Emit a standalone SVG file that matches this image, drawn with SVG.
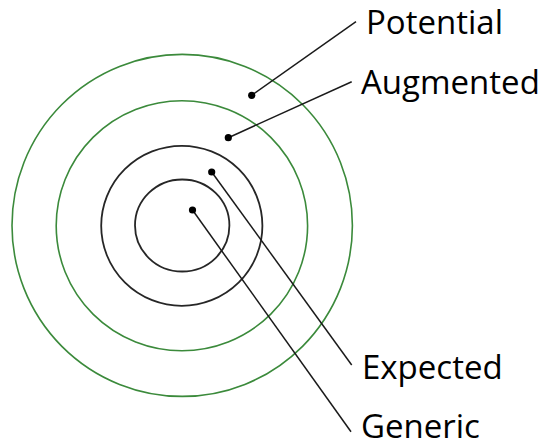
<svg xmlns="http://www.w3.org/2000/svg" width="543" height="447" viewBox="0 0 543 447">
  <style>
    .ring-g { fill: none; stroke: #3b8a3b; stroke-width: 1.6; }
    .ring-k { fill: none; stroke: #262626; stroke-width: 1.8; }
    .lead { stroke: #1a1a1a; stroke-width: 1.5; fill: none; }
    .dot { fill: #000; }
    .lbl { font-family: "Open Sans", "Liberation Sans", sans-serif; font-size: 33px; fill: #000; }
  </style>
  <rect width="543" height="447" fill="#fff"/>
  <g id="rings">
    <ellipse id="ring-potential" class="ring-g" cx="182.2" cy="225.4" rx="170.2" ry="171"/>
    <ellipse id="ring-augmented" class="ring-g" cx="181.9" cy="225.7" rx="125.7" ry="125"/>
    <ellipse id="ring-expected" class="ring-k" cx="181.8" cy="225.8" rx="80.6" ry="80"/>
    <ellipse id="ring-generic" class="ring-k" cx="182.2" cy="225.5" rx="47.2" ry="46"/>
  </g>
  <g id="connectors">
    <line class="lead" x1="251.7" y1="95.3" x2="356" y2="21.7"/>
    <line class="lead" x1="228.3" y1="137.7" x2="351.7" y2="81.7"/>
    <line class="lead" x1="211.7" y1="172" x2="351.7" y2="365"/>
    <line class="lead" x1="192.5" y1="210" x2="351" y2="431.7"/>
  </g>
  <g id="potential">
    <circle class="dot" cx="251.7" cy="95.3" r="3.6"/>
    <text class="lbl" x="366" y="34.3">Potential</text>
  </g>
  <g id="augmented">
    <circle class="dot" cx="228.3" cy="137.7" r="3.6"/>
    <text class="lbl" x="361" y="94.3">Augmented</text>
  </g>
  <g id="expected">
    <circle class="dot" cx="211.7" cy="172" r="3.6"/>
    <text class="lbl" x="362" y="379">Expected</text>
  </g>
  <g id="generic">
    <circle class="dot" cx="192.5" cy="210" r="3.6"/>
    <text class="lbl" x="361" y="438">Generic</text>
  </g>
</svg>
